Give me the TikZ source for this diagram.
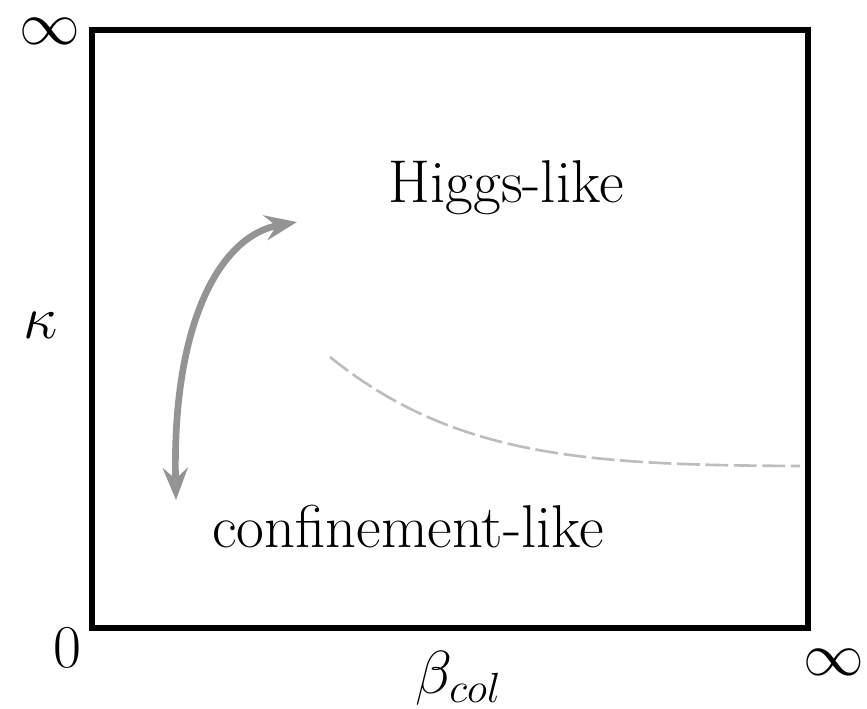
\documentclass[tikz,border=0pt]{standalone}
\usetikzlibrary{arrows.meta}
\definecolor{flow}{gray}{0.58}
\definecolor{trans}{gray}{0.74}

\begin{document}
\begin{tikzpicture}[
  lab/.style={font=\fontsize{17.2}{20}\selectfont, inner sep=0pt},
  frame/.style={draw, line width=1.45pt},
  arr/.style={{Stealth[length=3.2mm,width=2.5mm,inset=1.1mm]}-{Stealth[length=3.2mm,width=2.5mm,inset=1.1mm]}, line width=1.9pt, flow},
  crit/.style={trans, line width=0.75pt, dash pattern=on 6.5pt off 1.6pt}]
\useasboundingbox (0,0) rectangle (8.67,7.08);
\draw[frame] (0.92,0.80) rectangle (8.08,6.78);
\node[lab] (inftop) at (0.50,6.77) {$\infty$};
\node[lab] (zero) at (0.67,0.60) {$0$};
\node[lab] (infright) at (8.34,0.46) {$\infty$};
\node[lab] (beta) at (4.59,0.30) {$\beta_{col}$};
\node[lab] (kappa) at (0.41,3.83) {$\kappa$};
\node[lab] (higgs) at (5.06,5.20) {Higgs-like};
\node[lab] (conf) at (4.08,1.81) {confinement-like};
\coordinate (lo) at (1.76,2.08);
\coordinate (hi) at (2.97,4.86);
\draw[arr] (lo) .. controls (1.72,3.85) and (2.2,4.72) .. (hi);
\draw[crit] (3.30,3.51) .. controls (4.55,2.50) and (5.90,2.43) .. (8.00,2.42);
\end{tikzpicture}
\end{document}
